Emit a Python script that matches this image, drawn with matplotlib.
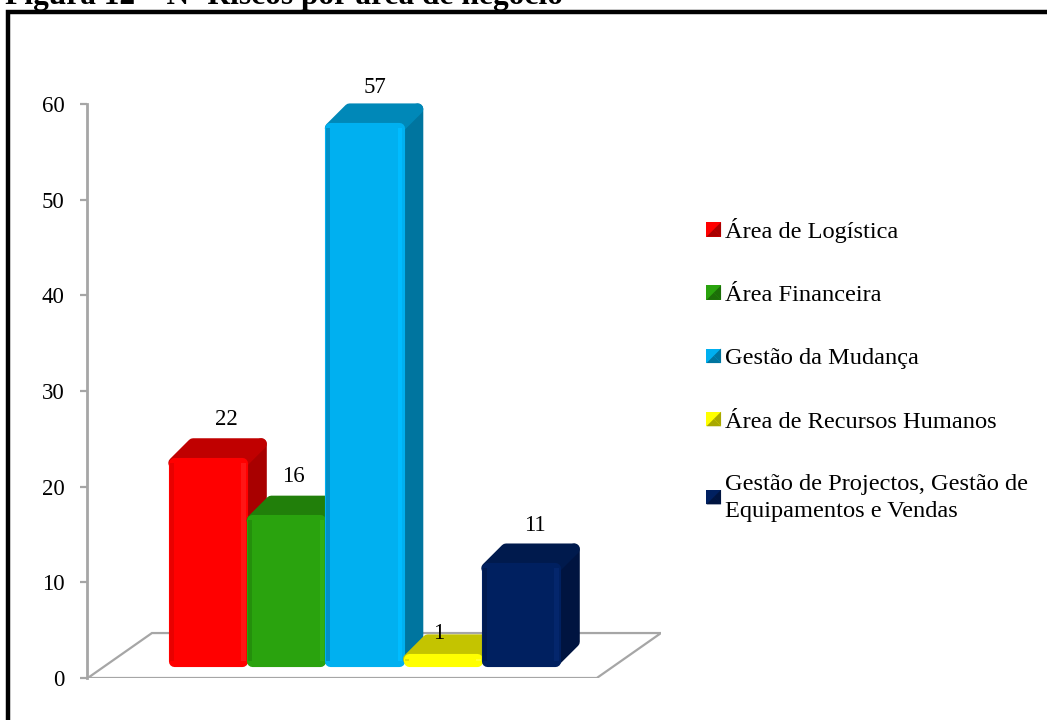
import matplotlib
matplotlib.use('Agg')
import matplotlib.pyplot as plt
from matplotlib.legend_handler import HandlerBase
from matplotlib.lines import Line2D
from matplotlib.patches import Patch, Polygon, Rectangle

categorias = ['Área de Logística', 'Área Financeira', 'Gestão da Mudança',
              'Área de Recursos Humanos',
              'Gestão de Projectos, Gestão de\nEquipamentos e Vendas']
valores = [22, 16, 57, 1, 11]
y_ticks = [0, 10, 20, 30, 40, 50, 60]

# cor da frente, do topo, do lado, realce claro e borda escura
cores = ['#ff0000', '#2aa30e', '#00b0f0', '#ffff00', '#002060']
topos = ['#c00000', '#217f0a', '#0088b8', '#c4c400', '#001a4d']
lados = ['#a80000', '#1c6e08', '#00759f', '#a8a800', '#001440']
realces = ['#ff1515', '#30b014', '#00bcff', '#ffff30', '#04266c']
bordas = ['#e80000', '#248f0c', '#0090c8', '#e0e000', '#001a50']

W, H = 1047, 720
fonte = 'Liberation Serif'

fig = plt.figure(figsize=(W / 100, H / 100), dpi=100)
ax = fig.add_axes([87 / W, 1 - 678 / H, (661 - 87) / W, (678 - 104) / H])
ax.set_xlim(-1.546, 5.79)
ax.set_ylim(0, 60)

# profundidade do efeito 3D e base das barras, em unidades dos eixos
dx = 0.245
dy = 2.0
base = 1.36
meia = 0.486
chao = 4.7
# folga para os cantos redondos (traço grosso com junção redonda)
folga_x = 0.05
folga_y = 0.42
traco = 8

x0, x1 = ax.get_xlim()
chao_x = [x0 + 0.01, x1 - 0.82, x1, x0 + 0.83]
ax.add_patch(Polygon(list(zip(chao_x, [0, 0, chao, chao])), closed=True,
                     facecolor='white', edgecolor='#a6a6a6', lw=1.6, zorder=1))

for i, v in enumerate(valores):
    z = 2 + i
    e, d = i - meia + folga_x, i + meia - folga_x
    # a barra mais baixa mantém uma espessura mínima
    topo = max(v + 0.9, base + 1.04) - folga_y
    fundo = base + folga_y
    # lado direito e topo
    ax.add_patch(Polygon([(d, fundo), (d + dx, fundo + dy), (d + dx, topo + dy), (d, topo)],
                         closed=True, fc=lados[i], ec=lados[i], lw=traco, joinstyle='round',
                         zorder=z, clip_on=False))
    ax.add_patch(Polygon([(e, topo), (e + dx, topo + dy), (d + dx, topo + dy), (d, topo)],
                         closed=True, fc=topos[i], ec=topos[i], lw=traco, joinstyle='round',
                         zorder=z + 0.05, clip_on=False))
    # frente
    ax.bar(i, topo - fundo, bottom=fundo, width=2 * (meia - folga_x), color=cores[i],
           edgecolor=cores[i], linewidth=traco, joinstyle='round', zorder=z + 0.1)
    ax.bar(i - meia + 0.025, topo - fundo, bottom=fundo, width=0.05, color=bordas[i],
           zorder=z + 0.2)
    ax.bar(i + meia - 0.03, topo - fundo, bottom=fundo, width=0.06, color=realces[i],
           zorder=z + 0.2)

# rótulos com desvio próprio de cada barra
desvio_x = [0.24, 0.09, 0.13, -0.05, 0.18]
desvio_y = [5.05, 5.1, 4.75, 3.6, 4.9]
for i, v in enumerate(valores):
    ax.text(i + desvio_x[i], v + desvio_y[i], str(v), ha='center', va='center',
            family=fonte, fontsize=16.5, color='black', zorder=10, clip_on=False)

for s in ['top', 'right', 'bottom']:
    ax.spines[s].set_visible(False)
ax.spines['left'].set_color('#a6a6a6')
ax.spines['left'].set_linewidth(2)
ax.set_xticks([])
ax.set_yticks(y_ticks)
ax.set_yticklabels([str(t) for t in y_ticks], family=fonte, fontsize=16.5)
ax.tick_params(axis='y', color='#a6a6a6', length=5, width=1.6, pad=11)


class Chanfrado(HandlerBase):
    # quadradinho da legenda com aspecto de pirâmide
    def create_artists(self, legend, orig, xd, yd, w, h, fontsize, trans):
        lado = 10.5
        a = (w - lado) / 2
        b = (h - lado) / 2
        cor = orig.get_facecolor()
        esc = orig.get_edgecolor()
        c = (a + lado / 2, b + lado / 2)
        q = Rectangle((a, b), lado, lado, fc=cor, ec='none', transform=trans)
        t1 = Polygon([(a, b), (a + lado, b), c], fc=esc, ec='none', transform=trans)
        t2 = Polygon([(a + lado, b), (a + lado, b + lado), c], fc=esc, ec='none', transform=trans)
        return [q, t1, t2]


handles = [Patch(facecolor=c, edgecolor=l) for c, l in zip(cores, lados)]
leg = fig.legend(handles, categorias, loc='upper left',
                 bbox_to_anchor=(704 / W, 1 - 218 / H), bbox_transform=fig.transFigure,
                 frameon=False, labelspacing=1.68, handlelength=0.8, handletextpad=0.05,
                 borderpad=0, borderaxespad=0,
                 prop={'family': fonte, 'size': 17.6},
                 handler_map={Patch: Chanfrado()})
for t in leg.get_texts():
    t.set_linespacing(1.38)

# moldura preta e título cortado no alto
fig.add_artist(Line2D([8 / W, 8 / W, 1], [0, 1 - 12 / H, 1 - 12 / H], color='black', lw=3.2,
                      solid_joinstyle='miter', transform=fig.transFigure))
fig.text(5 / W, 1 - 4 / H, 'Figura 12 – Nº Riscos por área de negócio', family=fonte,
         fontsize=22.6, fontweight='bold', ha='left', va='baseline', color='black')

fig.savefig('out.png', dpi=100)
